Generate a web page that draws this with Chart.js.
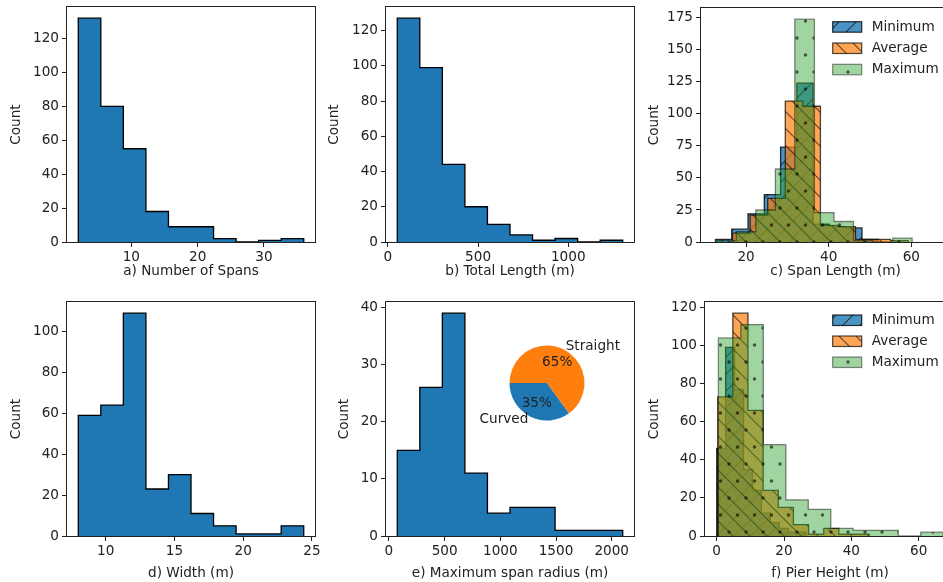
<!DOCTYPE html>
<html>
<head>
<meta charset="utf-8">
<script src="https://cdn.jsdelivr.net/npm/chart.js@4.4.1/dist/chart.umd.min.js"></script>
<style>
  html, body { margin: 0; padding: 0; background: #fff; overflow: hidden; }
  #fig { position: relative; width: 943px; height: 582px; overflow: hidden; background: #fff; }
  #fig canvas { position: absolute; }
</style>
</head>
<body>
<div id="fig">
  <canvas id="pa" width="320" height="290" style="left:0px;top:0px"></canvas>
  <canvas id="pb" width="320" height="290" style="left:320px;top:0px"></canvas>
  <canvas id="pc" width="335" height="290" style="left:640px;top:0px"></canvas>
  <canvas id="pd" width="320" height="292" style="left:0px;top:290px"></canvas>
  <canvas id="pe" width="320" height="292" style="left:320px;top:290px"></canvas>
  <canvas id="pf" width="320" height="292" style="left:640px;top:290px"></canvas>
  <canvas id="pie" width="170" height="120" style="left:460px;top:330px"></canvas>
</div>
<script>
// a) number of spans
const spanCountEdges = [2, 5.4, 8.8, 12.2, 15.6, 19, 22.4, 25.8, 29.2, 32.6, 36];
const spanCountHist = [132, 80, 55, 18, 9, 9, 2, 0, 1, 2];

// b) total length (m)
const lengthEdges = [52, 177, 302, 427, 552, 677, 802, 927, 1052, 1177, 1302];
const lengthHist = [127, 99, 44, 20, 10, 4, 1, 2, 0, 1];

// c) span length (m), min / average / max per bridge
const spanMinEdges = [12.6, 16.54, 20.48, 24.42, 28.36, 32.3, 36.24, 40.18, 44.12, 48.06, 52.0];
const spanMinHist = [2, 10, 22, 37, 74, 124, 14, 12, 11, 2];
const spanAvgEdges = [16.75, 21, 25.25, 29.5, 33.75, 38, 42.25, 46.5, 50.75, 55, 59.25];
const spanAvgHist = [7, 21, 34, 110, 106, 13, 12, 2, 2, 1];
const spanMaxEdges = [12.9, 17.63, 22.36, 27.1, 31.8, 36.55, 41.3, 46.0, 50.75, 55.5, 60.2];
const spanMaxHist = [1, 8, 25, 57, 174, 23, 16, 1, 0, 3];

// d) width (m)
const widthEdges = [8, 9.64, 11.28, 12.92, 14.56, 16.2, 17.84, 19.48, 21.12, 22.76, 24.4];
const widthHist = [59, 64, 109, 23, 30, 11, 5, 1, 1, 5];

// e) maximum span radius (m) + straight/curved share
const radiusEdges = [75, 277.4, 479.8, 682.2, 884.6, 1087, 1289.4, 1491.8, 1694.2, 1896.6, 2099];
const radiusHist = [15, 26, 39, 11, 4, 5, 5, 1, 1, 1];
const shapeLabels = ["Curved", "Straight"];
const shapeShares = [35, 65];

// f) pier height (m)
const pierMinEdges = [0, 2.66, 5.32, 7.98, 10.64, 13.3, 15.96, 18.62, 21.28, 23.94, 26.6];
const pierMinHist = [46, 99, 77, 35, 24, 12, 7, 4, 2, 2];
const pierAvgEdges = [0.3, 4.8, 9.3, 13.8, 18.3, 22.8, 27.3, 31.8, 36.3, 40.8, 45.3];
const pierAvgHist = [73, 117, 66, 24, 15, 6, 1, 4, 1, 1];
const pierMaxEdges = [0.5, 7.18, 13.86, 20.54, 27.22, 33.9, 40.58, 47.26, 53.94, 60.62, 67.3];
const pierMaxHist = [104, 111, 48, 19, 14, 4, 3, 3, 0, 2];

const seriesNames = ["Minimum", "Average", "Maximum"];

// tick labels
const ticksA = [10, 20, 30];
const ticksB = [0, 500, 1000];
const ticksC = [20, 40, 60];
const ticksD = [10, 15, 20, 25];
const ticksE = [0, 500, 1000, 1500, 2000];
const ticksF = [0, 20, 40, 60];
const countTicks120 = [0, 20, 40, 60, 80, 100, 120];
const countTicks100 = [0, 20, 40, 60, 80, 100];
const countTicks175 = [0, 25, 50, 75, 100, 125, 150, 175];
const countTicks40 = [0, 10, 20, 30, 40];

Chart.defaults.font.family = "'DejaVu Sans', sans-serif";
Chart.defaults.font.size = 13.6;
Chart.defaults.color = "#222";

// outline polygon of a stepfilled histogram
function stepPoints(edges, counts) {
    const pts = [{ x: edges[0], y: 0 }];
    counts.forEach((c, i) => pts.push({ x: edges[i], y: c }));
    pts.push({ x: edges[edges.length - 1], y: counts[counts.length - 1] });
    pts.push({ x: edges[edges.length - 1], y: 0 });
    return pts;
}

function hatchFill(rgb, alpha, hatch) {
    const s = 17;
    const tile = document.createElement("canvas");
    tile.width = s;
    tile.height = hatch === "." ? s * 2 : s;
    const g = tile.getContext("2d");
    g.fillStyle = `rgba(${rgb},${alpha})`;
    g.fillRect(0, 0, tile.width, tile.height);
    g.strokeStyle = g.fillStyle = "rgba(0,0,0,0.6)";
    g.lineWidth = 1.2;
    if (hatch === ".") {
        [[4, 4], [4 + s / 2, 4 + s]].forEach(([x, y]) => {
            g.beginPath();
            g.arc(x, y, 1.7, 0, Math.PI * 2);
            g.fill();
        });
    } else {
        g.beginPath();
        for (const k of [-1, 0, 1]) {
            if (hatch === "/") { g.moveTo(k * s, s); g.lineTo(k * s + s, 0); }
            else { g.moveTo(k * s, 0); g.lineTo(k * s + s, s); }
        }
        g.stroke();
    }
    return g.createPattern(tile, "repeat");
}

function histSet(label, edges, counts, fill, edge, order) {
    return {
        label: label,
        data: stepPoints(edges, counts),
        stepped: true,
        fill: "origin",
        backgroundColor: fill,
        borderColor: edge,
        borderWidth: 1.3,
        pointRadius: 0,
        order: order
    };
}

const frame = {
    id: "frame",
    afterDraw(chart) {
        const a = chart.chartArea;
        const ctx = chart.ctx;
        ctx.save();
        ctx.strokeStyle = "#222";
        ctx.lineWidth = 1;
        ctx.strokeRect(a.left - 0.5, a.top - 0.5, a.right - a.left + 1, a.bottom - a.top + 1);
        ctx.restore();
    }
};

const hatchLegend = {
    id: "hatchLegend",
    afterDraw(chart, args, opts) {
        if (opts.x === undefined) return;
        const ctx = chart.ctx;
        ctx.save();
        chart.data.datasets.forEach((ds, i) => {
            const y = opts.y + i * opts.gap;
            ctx.fillStyle = "#fff";
            ctx.fillRect(opts.x, y, 29, 10.5);
            ctx.fillStyle = ds.backgroundColor;
            ctx.fillRect(opts.x, y, 29, 10.5);
            ctx.strokeStyle = ds.borderColor;
            ctx.lineWidth = 1.2;
            ctx.strokeRect(opts.x, y, 29, 10.5);
            ctx.fillStyle = "#222";
            ctx.font = "13.6px 'DejaVu Sans'";
            ctx.textBaseline = "middle";
            ctx.textAlign = "left";
            ctx.fillText(ds.label, opts.x + 39, y + 5.5);
        });
        ctx.restore();
    }
};

function panel(id, p) {
    const tickGrid = { drawOnChartArea: false, drawTicks: true, tickLength: 5, tickWidth: 1, tickColor: "#222" };
    return new Chart(document.getElementById(id), {
        type: "line",
        data: { datasets: p.datasets },
        options: {
            responsive: false,
            animation: false,
            events: [],
            devicePixelRatio: 1,
            layout: { padding: { top: p.top, right: p.right, left: 0, bottom: 0 } },
            plugins: {
                legend: { display: false },
                tooltip: { enabled: false },
                hatchLegend: p.legend || {}
            },
            scales: {
                x: {
                    type: "linear",
                    min: p.xRange[0],
                    max: p.xRange[1],
                    afterBuildTicks: s => { s.ticks = p.xTicks.map(v => ({ value: v })); },
                    afterFit: s => { s.height = p.xAxisH; s.paddingLeft = 0; s.paddingRight = 0; },
                    grid: tickGrid,
                    border: { display: false },
                    ticks: { padding: 2, autoSkip: false, maxRotation: 0, callback: v => String(v) },
                    title: { display: true, text: p.xTitle, padding: { top: 0, bottom: p.xTitlePad } }
                },
                y: {
                    type: "linear",
                    min: 0,
                    max: p.yMax,
                    afterBuildTicks: s => { s.ticks = p.yTicks.map(v => ({ value: v })); },
                    afterFit: s => { s.width = p.yAxisW; s.paddingTop = 0; s.paddingBottom = 0; },
                    grid: tickGrid,
                    border: { display: false },
                    ticks: { padding: 3, autoSkip: false, callback: v => String(v) },
                    title: { display: true, text: "Count", padding: { top: p.yTitlePad, bottom: 0 } }
                }
            }
        },
        plugins: [frame, hatchLegend]
    });
}

const barBlue = "#1f77b4";
const blueRgb = "31,119,180", orangeRgb = "255,127,14", greenRgb = "44,160,44";

panel("pa", {
    datasets: [histSet("Count", spanCountEdges, spanCountHist, barBlue, "#000", 0)],
    top: 7, right: 5, yAxisW: 67, xAxisH: 48,
    xRange: [0.3, 37.7], xTicks: ticksA, yMax: 138.6, yTicks: countTicks120,
    xTitle: "a) Number of Spans", xTitlePad: 10, yTitlePad: 8
});

panel("pb", {
    datasets: [histSet("Count", lengthEdges, lengthHist, barBlue, "#000", 0)],
    top: 7, right: 6, yAxisW: 66, xAxisH: 48,
    xRange: [-10.5, 1364.5], xTicks: ticksB, yMax: 133.35, yTicks: countTicks120,
    xTitle: "b) Total Length (m)", xTitlePad: 10, yTitlePad: 6
});

panel("pc", {
    datasets: [
        histSet(seriesNames[0], spanMinEdges, spanMinHist, hatchFill(blueRgb, 0.8, "/"), "rgba(0,0,0,0.8)", 2),
        histSet(seriesNames[1], spanAvgEdges, spanAvgHist, hatchFill(orangeRgb, 0.7, "\\"), "rgba(0,0,0,0.7)", 1),
        histSet(seriesNames[2], spanMaxEdges, spanMaxHist, hatchFill(greenRgb, 0.45, "."), "rgba(0,0,0,0.45)", 0)
    ],
    top: 8, right: 5, yAxisW: 61, xAxisH: 48,
    xRange: [9.1, 74.2], xTicks: ticksC, yMax: 182.7, yTicks: countTicks175,
    xTitle: "c) Span Length (m)", xTitlePad: 10, yTitlePad: 6,
    legend: { x: 192.7, y: 21.7, gap: 21.3 }
});

panel("pd", {
    datasets: [histSet("Count", widthEdges, widthHist, barBlue, "#000", 0)],
    top: 12, right: 5, yAxisW: 67, xAxisH: 46,
    xRange: [7.18, 25.22], xTicks: ticksD, yMax: 114.45, yTicks: countTicks100,
    xTitle: "d) Width (m)", xTitlePad: 0, yTitlePad: 8
});

panel("pe", {
    datasets: [histSet("Count", radiusEdges, radiusHist, barBlue, "#000", 0)],
    top: 12, right: 6, yAxisW: 66, xAxisH: 46,
    xRange: [-26.2, 2200.2], xTicks: ticksE, yMax: 40.95, yTicks: countTicks40,
    xTitle: "e) Maximum span radius (m)", xTitlePad: 0, yTitlePad: 16
});

panel("pf", {
    datasets: [
        histSet(seriesNames[0], pierMinEdges, pierMinHist, hatchFill(blueRgb, 0.8, "/"), "rgba(0,0,0,0.8)", 2),
        histSet(seriesNames[1], pierAvgEdges, pierAvgHist, hatchFill(orangeRgb, 0.7, "\\"), "rgba(0,0,0,0.7)", 1),
        histSet(seriesNames[2], pierMaxEdges, pierMaxHist, hatchFill(greenRgb, 0.45, "."), "rgba(0,0,0,0.45)", 0)
    ],
    top: 12, right: 5, yAxisW: 65, xAxisH: 46,
    xRange: [-3.47, 70.8], xTicks: ticksF, yMax: 122.85, yTicks: countTicks120,
    xTitle: "f) Pier Height (m)", xTitlePad: 0, yTitlePad: 6,
    legend: { x: 192.7, y: 25, gap: 21 }
});

// inset pie with labels outside and percentages inside
const pieLabels = {
    id: "pieLabels",
    afterDraw(chart) {
        const ctx = chart.ctx;
        const total = shapeShares.reduce((s, v) => s + v, 0);
        ctx.save();
        ctx.fillStyle = "#222";
        ctx.font = "13.6px 'DejaVu Sans'";
        ctx.textBaseline = "middle";
        chart.getDatasetMeta(0).data.forEach((arc, i) => {
            const { x, y, startAngle, endAngle, outerRadius } = arc.getProps(["x", "y", "startAngle", "endAngle", "outerRadius"]);
            const mid = (startAngle + endAngle) / 2;
            const cx = Math.cos(mid), cy = Math.sin(mid);
            ctx.textAlign = cx < 0 ? "right" : "left";
            ctx.fillText(shapeLabels[i], x + cx * outerRadius * 1.1, y + cy * outerRadius * 1.1);
            ctx.textAlign = "center";
            ctx.fillText(Math.round(shapeShares[i] / total * 100) + "%", x + cx * outerRadius * 0.6, y + cy * outerRadius * 0.6);
        });
        ctx.restore();
    }
};

new Chart(document.getElementById("pie"), {
    type: "pie",
    data: {
        labels: shapeLabels,
        datasets: [{ data: shapeShares, backgroundColor: [barBlue, "#ff7f0e"], borderWidth: 0 }]
    },
    options: {
        responsive: false,
        animation: false,
        events: [],
        devicePixelRatio: 1,
        rotation: 144,
        layout: { padding: { left: 49.5, right: 45.5, top: 15.5, bottom: 29.5 } },
        plugins: { legend: { display: false }, tooltip: { enabled: false } }
    },
    plugins: [pieLabels]
});
</script>
</body>
</html>
